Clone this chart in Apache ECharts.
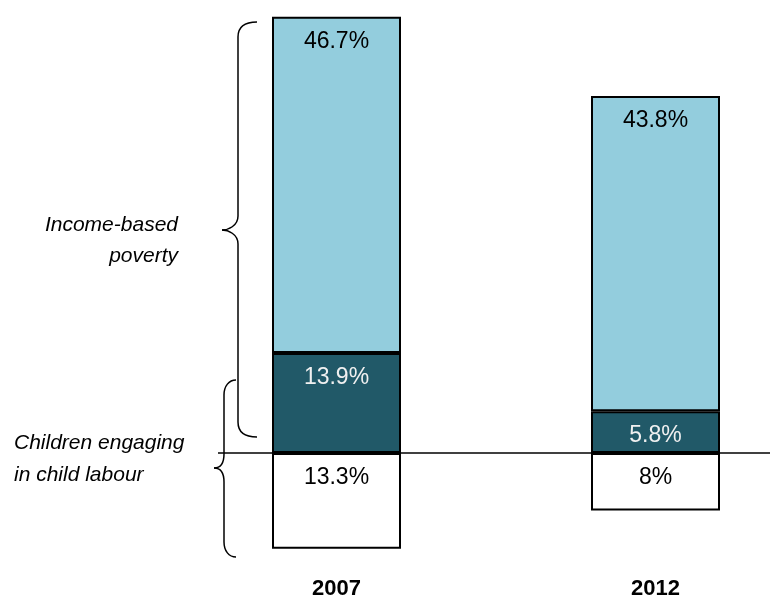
<!DOCTYPE html>
<html>
<head>
<meta charset="utf-8">
<script src="https://cdn.jsdelivr.net/npm/echarts@6/dist/echarts.min.js"></script>
<style>
  html, body { margin: 0; padding: 0; background: #ffffff; }
  #chart { width: 770px; height: 599px; }
</style>
</head>
<body>
<div id="chart"></div>
<script>
// Survey years
const years = ['2007', '2012'];
// Children both in income poverty and engaged in child labour (%)
const labourAndPoverty = [13.9, 5.8];
// Children in income-based poverty only (%)
const incomePovertyOnly = [46.7, 43.8];
// Children engaged in child labour only (%), drawn below the zero line
const labourOnly = [13.3, 8];

const FONT = '"Liberation Sans", Arial, sans-serif';
const chart = echarts.init(document.getElementById('chart'), null, { renderer: 'canvas' });

const pct = p => Math.abs(p.value) + '%';
const barBase = {
  type: 'bar',
  stack: 'total',
  barWidth: 129,
  itemStyle: { borderColor: '#000000', borderWidth: 2 },
  label: {
    show: true,
    position: 'insideTop',
    distance: 13,
    fontFamily: FONT,
    fontSize: 23,
    formatter: pct
  },
  emphasis: { disabled: true }
};

chart.setOption({
  animation: false,
  backgroundColor: '#ffffff',
  // the category bands run past the right edge so the two bars sit where needed
  grid: {
    left: 177, right: -45, top: 6.6, bottom: 30.8,
    containLabel: false,
    outerBoundsMode: 'none'
  },
  xAxis: {
    type: 'category',
    data: years,
    axisLine: { show: false, onZero: false },
    axisTick: { show: false },
    axisLabel: {
      margin: 10,
      fontFamily: FONT,
      fontSize: 22,
      fontWeight: 'bold',
      color: '#000000'
    }
  },
  yAxis: {
    type: 'value',
    min: -16,
    max: 62,
    show: false,
    splitLine: { show: false }
  },
  series: [
    Object.assign({}, barBase, {
      name: 'Poverty and child labour',
      data: labourAndPoverty,
      itemStyle: Object.assign({}, barBase.itemStyle, { color: '#215968' }),
      label: Object.assign({}, barBase.label, { color: '#f0f0f0' })
    }),
    Object.assign({}, barBase, {
      name: 'Income-based poverty',
      data: incomePovertyOnly,
      itemStyle: Object.assign({}, barBase.itemStyle, { color: '#93CDDD' }),
      label: Object.assign({}, barBase.label, { color: '#000000' })
    }),
    Object.assign({}, barBase, {
      name: 'Child labour',
      data: labourOnly.map(v => -v),
      itemStyle: Object.assign({}, barBase.itemStyle, { color: '#ffffff' }),
      label: Object.assign({}, barBase.label, { color: '#000000' })
    })
  ]
});

// Curly bracket built from bezier curves and straight segments.
// xEnd: x of the two tips, xMid: x of the vertical stem, xPoint: x of the middle point
function brace(xEnd, xMid, xPoint, yTop, yPoint, yBottom) {
  const stroke = { stroke: '#000000', lineWidth: 1.5, fill: null };
  const r = 15, m = 14;
  return [
    { type: 'bezierCurve', shape: { x1: xEnd, y1: yTop, cpx1: xMid + 5, cpy1: yTop, cpx2: xMid, cpy2: yTop + 6, x2: xMid, y2: yTop + r }, style: stroke },
    { type: 'line', shape: { x1: xMid, y1: yTop + r, x2: xMid, y2: yPoint - m }, style: stroke },
    { type: 'bezierCurve', shape: { x1: xMid, y1: yPoint - m, cpx1: xMid, cpy1: yPoint - 4, cpx2: xPoint + 6, cpy2: yPoint, x2: xPoint, y2: yPoint }, style: stroke },
    { type: 'bezierCurve', shape: { x1: xPoint, y1: yPoint, cpx1: xPoint + 6, cpy1: yPoint, cpx2: xMid, cpy2: yPoint + 4, x2: xMid, y2: yPoint + m }, style: stroke },
    { type: 'line', shape: { x1: xMid, y1: yPoint + m, x2: xMid, y2: yBottom - r }, style: stroke },
    { type: 'bezierCurve', shape: { x1: xMid, y1: yBottom - r, cpx1: xMid, cpy1: yBottom - 6, cpx2: xMid + 5, cpy2: yBottom, x2: xEnd, y2: yBottom }, style: stroke }
  ];
}

const textItem = (t, x, y, align) => ({
  type: 'text',
  x: x, y: y,
  style: {
    text: t,
    fontFamily: FONT, fontSize: 21, fontStyle: 'italic',
    fill: '#000000', align: align, verticalAlign: 'middle'
  }
});

// Zero line and the two bracket annotations
const zeroY = chart.convertToPixel({ yAxisIndex: 0 }, 0);

chart.setOption({
  graphic: [
    {
      type: 'line',
      shape: { x1: 218, y1: zeroY, x2: 770, y2: zeroY },
      style: { stroke: '#000000', lineWidth: 1.5 },
      z: 100
    }
  ].concat(
    brace(257, 238, 222, 22, 230, 437),
    brace(236, 224, 214, 380, 468, 557),
    [
      textItem('Income-based', 178, 225, 'right'),
      textItem('poverty', 178, 256, 'right'),
      textItem('Children engaging', 14, 443, 'left'),
      textItem('in child labour', 14, 475, 'left')
    ]
  )
});
</script>
</body>
</html>
